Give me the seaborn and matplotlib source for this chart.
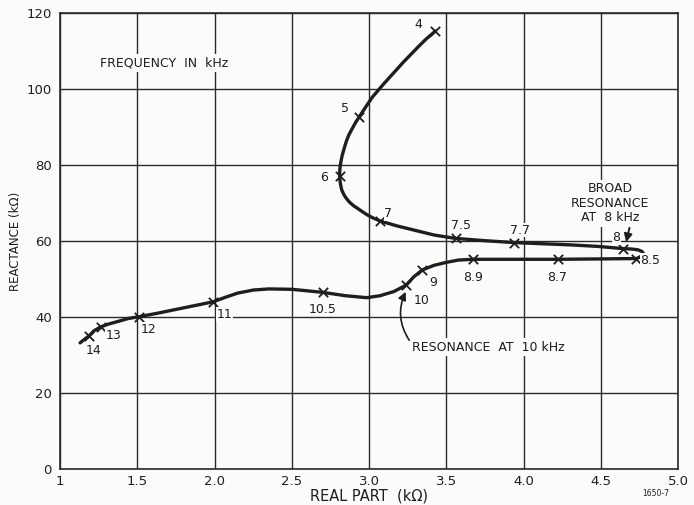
import numpy as np
import pandas as pd
import seaborn as sns
import matplotlib.pyplot as plt

# measured points (frequency in kHz)
freq = ['4', '5', '6', '7', '7.5', '7.7', '8', '8.5', '8.7', '8.9',
        '9', '10', '10.5', '11', '12', '13', '14']
real_part = [3.43, 2.935, 2.81, 3.07, 3.56, 3.94, 4.646, 4.73, 4.22, 3.675,
             3.345, 3.24, 2.70, 1.99, 1.513, 1.263, 1.19]
reactance = [115.3, 92.6, 77.2, 65.3, 60.7, 59.6, 58.0, 55.3, 55.2, 55.2,
             52.4, 48.4, 46.5, 44.0, 40.1, 37.4, 35.1]

# hand-drawn curve
curve_x = [3.43, 3.37, 3.32, 3.27, 3.22, 3.18, 3.14, 3.10, 3.07, 3.02, 2.98,
           2.935, 2.91, 2.89, 2.87, 2.856, 2.845, 2.835, 2.826, 2.82, 2.815,
           2.812, 2.81, 2.81, 2.812, 2.816, 2.823, 2.835, 2.85, 2.872, 2.90,
           2.94, 2.98, 3.02, 3.07, 3.18, 3.29, 3.42, 3.56, 3.75,
           3.94, 4.12, 4.30, 4.48, 4.646, 4.70, 4.74, 4.765, 4.775, 4.77,
           4.755, 4.73, 4.50, 4.22, 3.95, 3.675, 3.58, 3.50, 3.42, 3.345,
           3.29, 3.24, 3.16, 3.07, 2.985, 2.85, 2.70, 2.50, 2.35, 2.25, 2.15,
           2.07, 1.99, 1.87, 1.75, 1.63, 1.513, 1.44, 1.38, 1.31, 1.263, 1.22,
           1.19, 1.16, 1.13]
curve_y = [115.3, 113.2, 111.2, 109.1, 107.0, 105.2, 103.4, 101.6, 100.2, 97.8,
           95.4, 92.6, 91.0, 89.5, 88.0, 86.6, 85.2, 83.8, 82.5, 81.3, 80.2,
           79.2, 78.2, 77.2, 75.9, 74.8, 73.5, 72.4, 71.4, 70.3, 69.3,
           68.2, 67.1, 66.2, 65.3, 64.0, 62.9, 61.6, 60.7, 60.1,
           59.6, 59.3, 59.0, 58.6, 58.0, 57.9, 57.7, 57.3, 56.8, 56.3,
           55.8, 55.4, 55.3, 55.2, 55.2, 55.2, 55.0, 54.4, 53.6, 52.4,
           50.6, 48.4, 46.7, 45.6, 45.1, 45.6, 46.5, 47.3, 47.4, 47.1, 46.3,
           45.2, 44.0, 43.0, 42.0, 41.0, 40.1, 39.6, 38.9, 38.1, 37.4, 36.4,
           35.1, 34.2, 33.2]

label_dx = [-12, -10, -11, 6, 4, 4, -5, 10, 0, 0, 8, 11, 0, 8, 7, 9, 3]
label_dy = [5, 6, -1, 5, 9, 9, 8, -1, -13, -13, -9, -11, -12, -9, -9, -6, -11]

df = pd.DataFrame({'x': real_part, 'y': reactance, 'f': freq})
curve = pd.DataFrame({'x': curve_x, 'y': curve_y})

sns.set_theme(style='white')
plt.rcParams['font.family'] = ['DejaVu Sans']
ink = '#1e1e1e'
paper = '#fbfbfa'

fig = plt.figure(figsize=(6.94, 5.05), dpi=100)
fig.patch.set_facecolor(paper)
ax = fig.add_axes([0.0865, 0.0713, 0.8905, 0.9027])
ax.set_facecolor(paper)

sns.lineplot(data=curve, x='x', y='y', sort=False, estimator=None,
             color=ink, lw=2.4, ax=ax, zorder=4)
sns.scatterplot(data=df, x='x', y='y', marker='x', s=45, color=ink,
                linewidth=1.3, ax=ax, zorder=5)

for i, row in df.iterrows():
    ax.annotate(row['f'], (row['x'], row['y']),
                xytext=(label_dx[i], label_dy[i]), textcoords='offset points',
                ha='center', va='center', fontsize=9, color=ink, zorder=6,
                bbox=dict(boxstyle='square,pad=0.05', fc=paper, ec='none'))

ax.set_xlim(1, 5)
ax.set_ylim(0, 120)
ax.set_xticks(np.arange(1, 5.01, 0.5))
ax.set_xticklabels(['1', '1.5', '2.0', '2.5', '3.0', '3.5', '4.0', '4.5', '5.0'])
ax.set_yticks(np.arange(0, 121, 20))
ax.grid(True, color='#2a2a2a', lw=1.0)
for s in ax.spines.values():
    s.set_color('#2a2a2a')
    s.set_linewidth(1.2)
ax.tick_params(length=0, labelsize=9.5, colors=ink)
ax.tick_params(axis='x', pad=4)
ax.tick_params(axis='y', pad=6)
ax.set_xlabel('REAL PART  (kΩ)', fontsize=10.5, color=ink, labelpad=1)
ax.set_ylabel('REACTANCE (kΩ)', fontsize=8.5, color=ink, labelpad=3)

box = dict(boxstyle='square,pad=0.2', fc=paper, ec='none')
ax.text(1.26, 106.8, 'FREQUENCY  IN  kHz', fontsize=9, color=ink,
        va='center', ha='left', bbox=box, zorder=6)
ax.text(4.56, 70.0, 'BROAD\nRESONANCE\nAT  8 kHz', fontsize=9, color=ink,
        ha='center', va='center', linespacing=1.15, bbox=box, zorder=6)
ax.annotate('', xy=(4.66, 59.0), xytext=(4.69, 64.2),
            arrowprops=dict(arrowstyle='-|>', color=ink, lw=1.4,
                            mutation_scale=12), zorder=6)
ax.text(3.28, 32.0, 'RESONANCE  AT  10 kHz', fontsize=9, color=ink,
        ha='left', va='center', bbox=box, zorder=6)
ax.annotate('', xy=(3.245, 47.3), xytext=(3.27, 33.3),
            arrowprops=dict(arrowstyle='-|>', color=ink, lw=1.2,
                            mutation_scale=12,
                            connectionstyle='arc3,rad=-0.3'), zorder=6)

fig.text(0.945, 0.022, '1650-7', fontsize=5.5, color=ink, ha='center',
         va='center')

fig.savefig('out.png', dpi=100, facecolor=fig.get_facecolor())
